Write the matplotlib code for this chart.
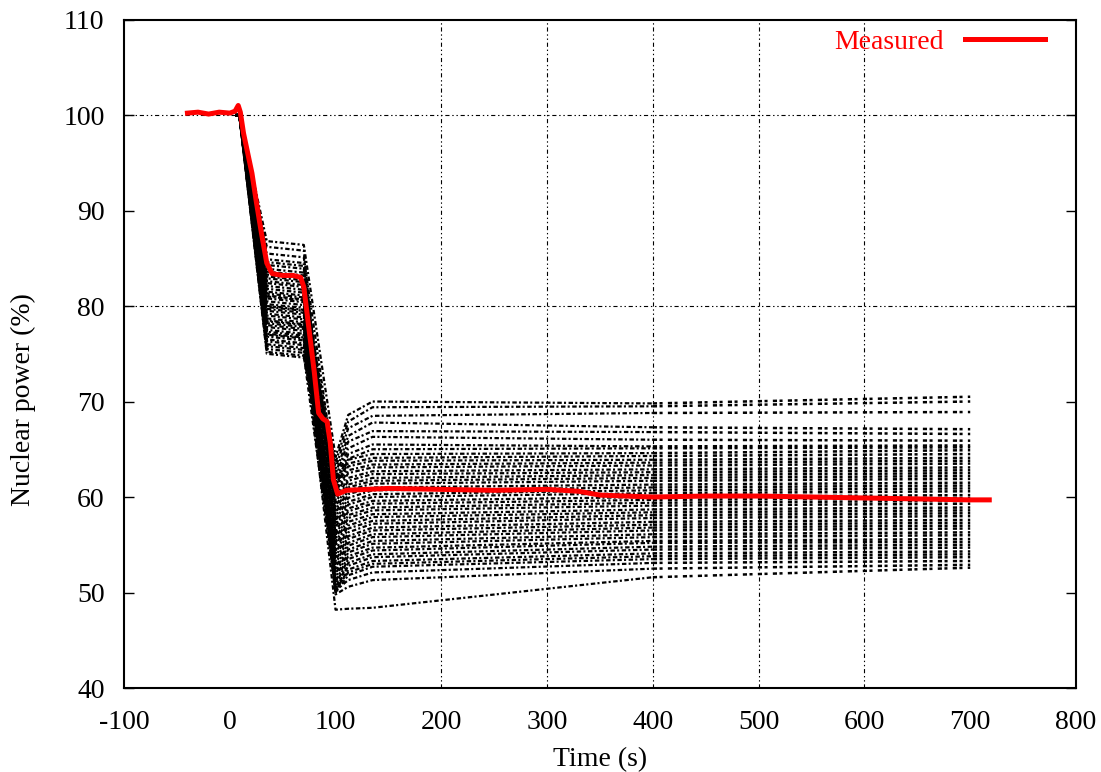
import matplotlib
matplotlib.use("Agg")
import matplotlib.pyplot as plt

# measured nuclear power (%) vs time (s)
meas_t = [-40, -30, -20, -10, 0, 5, 8, 10, 13, 17, 21, 25, 30, 35, 40, 50, 60,
          67, 70, 75, 80, 84, 88, 92, 95, 98, 102, 110, 150, 200, 250, 300,
          330, 350, 400, 450, 500, 550, 600, 650, 700, 718]
meas_p = [100.2, 100.3, 100.1, 100.3, 100.2, 100.4, 101.0, 100.3, 98.1, 96.0,
          93.9, 91.0, 87.6, 84.5, 83.4, 83.2, 83.2, 83.0, 82.0, 77.5, 73.0,
          68.8, 68.2, 67.9, 65.7, 61.8, 60.3, 60.7, 60.9, 60.8, 60.7, 60.8,
          60.6, 60.2, 60.0, 60.1, 60.1, 60.0, 59.9, 59.8, 59.7, 59.7]

# simulated runs: key levels
run_plateau = [86.8, 79.7, 82.4, 76.3, 85.5, 80.8, 77.8, 83.6, 81.3, 75.5,
               79.2, 82.9, 78.5, 84.3, 76.8, 81.8, 80.2, 77.3, 83.3, 75.0,
               79.0, 82.1, 78.0, 84.9, 76.0, 81.0, 80.5, 77.0, 82.6, 75.8,
               78.7, 81.5, 79.5, 86.2, 76.5, 80.0, 77.5, 83.9, 78.2, 75.2,
               84.6, 83.1, 81.1, 79.9, 78.4, 77.1]
run_trough = [64.2, 63.6, 63.0, 62.4, 62.0, 61.5, 61.0, 60.6,
              61.8, 61.3, 61.0, 60.5, 60.2, 59.7, 59.4, 59.0, 58.6, 58.3,
              57.9, 57.5, 57.1, 56.8, 56.3, 56.0, 55.6, 55.2, 54.9, 54.4,
              54.1, 53.7, 53.3, 53.0, 52.6, 52.2, 51.9, 51.5, 51.1, 50.8,
              50.5, 50.3, 50.1, 50.4, 50.0, 50.2, 49.8, 48.2]
run_rise = [68.6, 67.9, 67.2, 66.4, 65.8, 65.1, 64.5, 64.0,
            63.9, 63.5, 63.2, 62.8, 62.5, 62.0, 61.7, 61.3, 61.0, 60.7,
            60.3, 59.9, 59.5, 59.2, 58.8, 58.5, 58.1, 57.8, 57.4, 57.0,
            56.7, 56.3, 55.9, 55.6, 55.2, 54.9, 54.5, 54.2, 53.8, 53.5,
            53.1, 52.8, 52.4, 52.1, 51.8, 51.3, 50.6, 48.3]
run_settle = [70.0, 69.4, 68.5, 67.8, 66.9, 66.3, 65.5, 65.0,
              64.5, 64.1, 63.8, 63.4, 63.1, 62.7, 62.4, 62.0, 61.7, 61.4,
              61.0, 60.7, 60.3, 60.0, 59.6, 59.3, 58.9, 58.6, 58.2, 57.9,
              57.5, 57.2, 56.8, 56.5, 56.1, 55.8, 55.4, 55.1, 54.7, 54.4,
              54.0, 53.7, 53.3, 53.0, 52.7, 52.1, 51.3, 48.4]
run_t400 = [69.8, 69.5, 68.8, 67.3, 66.8, 66.0, 65.3, 65.1,
            64.6, 64.3, 63.9, 63.6, 63.3, 62.9, 62.6, 62.3, 62.0, 61.7,
            61.3, 61.0, 60.7, 60.4, 60.0, 59.7, 59.4, 59.1, 58.7, 58.4,
            58.1, 57.8, 57.4, 57.1, 56.8, 56.5, 56.1, 55.8, 55.4, 55.2,
            54.8, 54.5, 54.1, 53.8, 53.5, 53.1, 52.5, 51.6]
run_t700 = [70.5, 70.0, 68.9, 67.1, 66.6, 65.9, 65.4, 65.2,
            64.9, 64.5, 64.1, 63.8, 63.5, 63.1, 62.8, 62.5, 62.2, 61.9,
            61.5, 61.2, 60.9, 60.6, 60.2, 59.9, 59.6, 59.3, 58.9, 58.6,
            58.3, 58.0, 57.6, 57.3, 57.0, 56.7, 56.3, 56.0, 55.6, 55.3,
            55.0, 54.7, 54.3, 54.0, 53.7, 53.3, 52.9, 52.6]

key_t = [5, 9, 35, 70, 100, 112, 135, 400]
end_t = 700

x_ticks = [-100, 0, 100, 200, 300, 400, 500, 600, 700, 800]
y_ticks = [40, 50, 60, 70, 80, 90, 100, 110]
grid_x = [200, 300, 400, 500, 600]
grid_y = [80, 100]

plt.rcParams["font.family"] = ["Liberation Serif", "DejaVu Serif"]
plt.rcParams["lines.scale_dashes"] = False
plt.rcParams["axes.unicode_minus"] = False

fig = plt.figure(figsize=(11.01, 7.72), dpi=100)
ax = fig.add_axes([0.1126, 0.1088, 0.8647, 0.8659])

grid_style = (0, (3, 2, 1, 2, 1, 2))
for gx in grid_x:
    ax.axvline(gx, color="black", lw=0.8, ls=grid_style, zorder=1)
for gy in grid_y:
    ax.axhline(gy, color="black", lw=0.8, ls=grid_style, zorder=1)

# ensemble of simulated runs
for i in range(len(run_settle)):
    vals = [100.0, 100.0, run_plateau[i], run_plateau[i] - 0.4,
            run_trough[i], run_rise[i], run_settle[i], run_t400[i]]
    ax.plot(key_t, vals, color="black", lw=1.6,
            ls=((i * 1.7) % 8, (3.2, 1.6, 1.5, 1.8)), zorder=2)
    ax.plot([key_t[-1], end_t], [run_t400[i], run_t700[i]], color="black",
            lw=1.8, ls=(0, (3.0, 1.8, 2.2, 3.8)), zorder=2)

ax.plot(meas_t, meas_p, color="#ff0000", lw=3.6, zorder=3, label="Measured")

ax.set_xlim(-100, 800)
ax.set_ylim(40, 110)
ax.set_xticks(x_ticks)
ax.set_yticks(y_ticks)
ax.tick_params(axis="x", length=0, pad=16, labelsize=20)
ax.tick_params(axis="y", direction="in", length=7, width=1, pad=14,
               labelsize=20, right=True)
for sp in ax.spines.values():
    sp.set_linewidth(1.5)

ax.set_xlabel("Time (s)", fontsize=20)
ax.set_ylabel("Nuclear power (%)", fontsize=20)
ax.xaxis.set_label_coords(0.5, -0.088)
ax.yaxis.set_label_coords(-0.092, 0.431)

ax.legend(loc="center right", bbox_to_anchor=(0.9675, 0.966), frameon=False,
          markerfirst=False, fontsize=20, labelcolor="#ff0000",
          handlelength=2.9, handletextpad=0.75, borderpad=0, borderaxespad=0)

fig.savefig("out.png", dpi=100)
